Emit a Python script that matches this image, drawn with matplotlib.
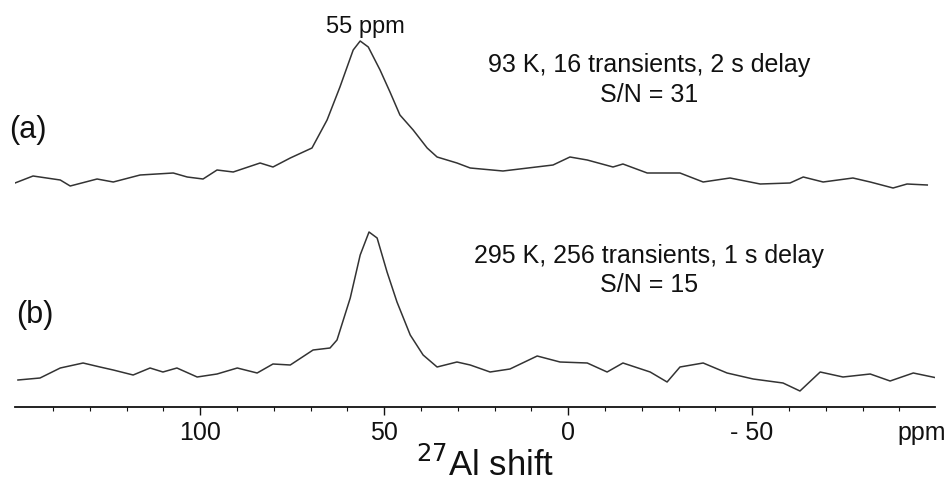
import matplotlib.pyplot as plt
import numpy as np

plt.rcParams['font.family'] = ['Liberation Sans', 'DejaVu Sans']

# spectrum (a): 93 K
ppm_a = [150.3, 145.4, 138.0, 135.3, 128.0, 123.6, 116.3, 107.3, 103.5, 99.2,
         95.4, 91.0, 83.7, 80.2, 75.5, 69.6, 65.5, 62.0, 58.4, 56.5,
         54.3, 51.1, 48.4, 45.7, 42.1, 38.3, 35.6, 30.2, 26.6, 17.7,
         4.1, -0.5, -5.2, -12.2, -14.9, -21.5, -30.4, -36.7, -44.0, -52.2,
         -60.3, -63.9, -69.3, -77.4, -82.1, -88.3, -92.1, -97.6]
int_a = [-3, 4, 0, -6, 1, -2, 5, 7, 3, 1,
         10, 8, 17, 13, 22, 32, 60, 93, 130, 139,
         133, 110, 88, 65, 50, 32, 23, 17, 12, 9,
         15, 23, 20, 13, 16, 7, 7, -2, 2, -4,
         -3, 3, -2, 2, -2, -8, -4, -5]

# spectrum (b): 295 K
ppm_b = [149.5, 143.5, 138.0, 131.8, 127.2, 123.6, 118.2, 113.6, 110.1, 106.3,
         100.8, 95.4, 89.9, 84.5, 80.2, 75.5, 69.3, 64.7, 62.8, 59.2,
         56.5, 54.1, 51.9, 49.2, 46.5, 42.9, 39.4, 35.6, 30.2, 26.6,
         21.2, 15.8, 8.4, 2.2, -5.2, -10.6, -14.9, -22.3, -26.9, -30.4,
         -36.7, -43.2, -50.3, -58.4, -63.0, -68.5, -74.7, -82.1, -87.5, -93.8,
         -100.3]
int_b = [-5, -3, 7, 12, 8, 5, 0, 7, 3, 7,
         -2, 1, 7, 2, 11, 10, 25, 27, 35, 77,
         120, 143, 137, 103, 73, 40, 20, 8, 13, 10,
         3, 6, 19, 13, 12, 3, 12, 3, -7, 8,
         12, 2, -4, -8, -16, 3, -2, 1, -6, 2,
         -3]

offset_a = 227
offset_b = 32

major_ticks = [100, 50, 0, -50]
major_labels = ['100', '50', '0', '- 50']
minor_ticks = np.arange(-90, 150, 10)

fig = plt.figure(figsize=(9.48, 4.83), dpi=100)
ax = fig.add_axes([15 / 948, 76 / 483, 920 / 948, 407 / 483])

col = '#333333'
ax.plot(ppm_a, np.array(int_a) + offset_a, color=col, lw=1.1)
ax.plot(ppm_b, np.array(int_b) + offset_b, color=col, lw=1.1)

ax.set_xlim(150.3, -99.7)
ax.set_ylim(0, 407)

for s in ['top', 'left', 'right']:
    ax.spines[s].set_visible(False)
ax.spines['bottom'].set_linewidth(1.3)
ax.spines['bottom'].set_color('#111111')
ax.set_yticks([])
ax.set_xticks(major_ticks)
ax.set_xticklabels(major_labels)
ax.set_xticks(minor_ticks, minor=True)
ax.tick_params(axis='x', which='major', length=6, width=1.0, pad=4,
               labelsize=18, colors='#111111')
ax.tick_params(axis='x', which='minor', length=3, width=0.8, colors='#111111')

txt = '#111111'
ax.text(-96, -26, 'ppm', fontsize=18, ha='center', va='center', color=txt)
ax.text(22.5, -58, '$^{27}$Al shift', fontsize=25, ha='center', va='center', color=txt)

ax.text(152, 407 - 130, '(a)', fontsize=22, ha='left', va='center', color=txt)
ax.text(150, 407 - 315, '(b)', fontsize=22, ha='left', va='center', color=txt)
ax.text(55, 407 - 27, '55 ppm', fontsize=17, ha='center', va='center', color=txt)

ax.text(-22, 407 - 65, '93 K, 16 transients, 2 s delay', fontsize=18,
        ha='center', va='center', color=txt)
ax.text(-22, 407 - 95, 'S/N = 31', fontsize=18, ha='center', va='center', color=txt)
ax.text(-22, 407 - 256, '295 K, 256 transients, 1 s delay', fontsize=18,
        ha='center', va='center', color=txt)
ax.text(-22, 407 - 285, 'S/N = 15', fontsize=18, ha='center', va='center', color=txt)

fig.savefig('out.png', dpi=100)
